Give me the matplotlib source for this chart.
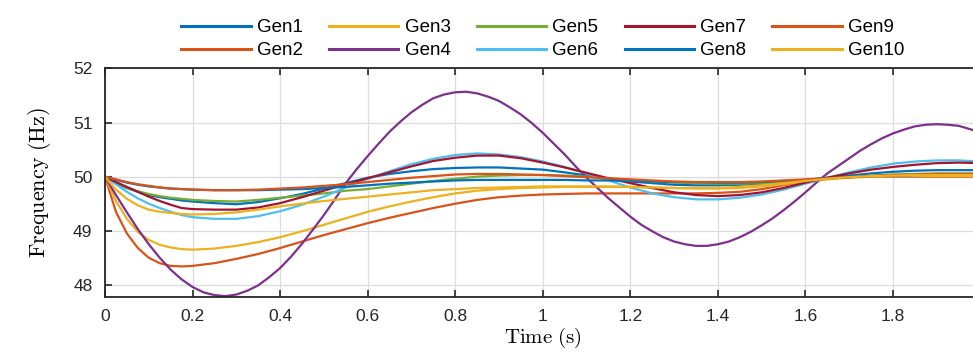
import matplotlib
matplotlib.use('Agg')
import matplotlib.pyplot as plt

# time axis (s)
t = [0, 0.025, 0.05, 0.075, 0.1, 0.125, 0.15, 0.175, 0.2,
     0.25, 0.3, 0.35, 0.4, 0.45, 0.5, 0.55, 0.6, 0.65, 0.7,
     0.75, 0.8, 0.85, 0.9, 0.95, 1.0, 1.05, 1.1, 1.15, 1.2,
     1.25, 1.3, 1.35, 1.4, 1.45, 1.5, 1.55, 1.6, 1.65, 1.7,
     1.75, 1.8, 1.85, 1.9, 1.95, 2.0]
# Gen4 swings a lot, read on a finer grid
t4 = [i * 0.025 for i in range(81)]

gen1 = [50.0, 49.88, 49.79, 49.72, 49.66, 49.62, 49.59, 49.56, 49.54,
        49.51, 49.49, 49.53, 49.60, 49.68, 49.78, 49.88, 49.98, 50.05, 50.10,
        50.14, 50.16, 50.17, 50.17, 50.15, 50.13, 50.08, 50.02, 49.96, 49.91,
        49.88, 49.85, 49.84, 49.84, 49.85, 49.87, 49.90, 49.94, 49.98, 50.02,
        50.06, 50.09, 50.11, 50.12, 50.12, 50.12]
gen2 = [50.0, 49.35, 48.95, 48.68, 48.50, 48.40, 48.35, 48.34, 48.35,
        48.40, 48.48, 48.57, 48.68, 48.80, 48.92, 49.03, 49.14, 49.24, 49.33,
        49.42, 49.50, 49.57, 49.62, 49.65, 49.67, 49.68, 49.69, 49.69, 49.69,
        49.69, 49.69, 49.69, 49.70, 49.72, 49.77, 49.84, 49.91, 49.96, 49.99,
        50.0, 50.0, 50.0, 50.0, 50.0, 50.0]
gen3 = [50.0, 49.55, 49.22, 48.98, 48.83, 48.74, 48.69, 48.66, 48.65,
        48.67, 48.72, 48.79, 48.88, 48.99, 49.11, 49.23, 49.35, 49.45, 49.54,
        49.62, 49.69, 49.74, 49.77, 49.79, 49.80, 49.81, 49.81, 49.81, 49.81,
        49.80, 49.79, 49.78, 49.78, 49.79, 49.82, 49.86, 49.91, 49.95, 49.98,
        50.0, 50.01, 50.01, 50.01, 50.01, 50.01]
gen4 = [50.0, 49.66, 49.34, 49.03, 48.75, 48.50, 48.28, 48.10, 47.96, 47.86,
        47.81, 47.79, 47.82, 47.89, 47.99, 48.14, 48.31, 48.52, 48.76, 49.02,
        49.29, 49.58, 49.88, 50.14, 50.38, 50.61, 50.83, 51.02, 51.19, 51.33,
        51.45, 51.52, 51.56, 51.57, 51.54, 51.48, 51.40, 51.28, 51.15, 50.99,
        50.81, 50.61, 50.41, 50.19, 49.98, 49.79, 49.60, 49.43, 49.26, 49.11,
        48.99, 48.88, 48.80, 48.75, 48.72, 48.72, 48.75, 48.80, 48.88, 48.98,
        49.10, 49.23, 49.38, 49.54, 49.71, 49.89, 50.06, 50.20, 50.34, 50.48,
        50.60, 50.71, 50.80, 50.87, 50.93, 50.96, 50.97, 50.96, 50.94, 50.88,
        50.82]
gen5 = [50.0, 49.89, 49.80, 49.73, 49.68, 49.64, 49.61, 49.59, 49.57,
        49.55, 49.54, 49.57, 49.61, 49.65, 49.69, 49.74, 49.77, 49.82, 49.87,
        49.92, 49.96, 50.00, 50.02, 50.03, 50.03, 50.02, 50.00, 49.97, 49.94,
        49.91, 49.89, 49.88, 49.87, 49.87, 49.88, 49.90, 49.93, 49.96, 49.99,
        50.02, 50.04, 50.05, 50.06, 50.06, 50.06]
gen6 = [50.0, 49.86, 49.72, 49.60, 49.50, 49.42, 49.35, 49.29, 49.25,
        49.22, 49.22, 49.27, 49.36, 49.48, 49.63, 49.80, 49.96, 50.10, 50.23,
        50.33, 50.40, 50.43, 50.41, 50.36, 50.28, 50.18, 50.06, 49.93, 49.80,
        49.69, 49.62, 49.58, 49.58, 49.61, 49.67, 49.76, 49.87, 49.98, 50.08,
        50.17, 50.24, 50.28, 50.30, 50.30, 50.28]
gen7 = [50.0, 49.90, 49.81, 49.72, 49.63, 49.55, 49.48, 49.42, 49.40,
        49.39, 49.39, 49.43, 49.51, 49.62, 49.74, 49.86, 49.97, 50.08, 50.19,
        50.29, 50.35, 50.39, 50.39, 50.34, 50.26, 50.17, 50.07, 49.97, 49.88,
        49.79, 49.71, 49.66, 49.64, 49.66, 49.71, 49.79, 49.89, 49.98, 50.06,
        50.13, 50.18, 50.22, 50.25, 50.26, 50.25]
gen8 = [50.0, 49.94, 49.89, 49.85, 49.82, 49.80, 49.78, 49.77, 49.76,
        49.75, 49.75, 49.75, 49.76, 49.77, 49.79, 49.81, 49.84, 49.87, 49.89,
        49.91, 49.93, 49.94, 49.94, 49.94, 49.94, 49.94, 49.93, 49.93, 49.92,
        49.91, 49.90, 49.90, 49.89, 49.89, 49.90, 49.92, 49.94, 49.97, 49.99,
        50.01, 50.02, 50.03, 50.04, 50.04, 50.04]
gen9 = [50.0, 49.95, 49.90, 49.86, 49.83, 49.80, 49.78, 49.77, 49.76,
        49.75, 49.75, 49.76, 49.78, 49.80, 49.83, 49.86, 49.90, 49.94, 49.98,
        50.01, 50.04, 50.05, 50.05, 50.04, 50.03, 50.01, 49.99, 49.97, 49.95,
        49.93, 49.91, 49.90, 49.90, 49.90, 49.91, 49.93, 49.95, 49.97, 49.99,
        50.01, 50.03, 50.04, 50.05, 50.05, 50.05]
gen10 = [50.0, 49.76, 49.59, 49.47, 49.39, 49.35, 49.33, 49.31, 49.30,
         49.31, 49.34, 49.39, 49.45, 49.50, 49.55, 49.59, 49.63, 49.67, 49.71,
         49.75, 49.77, 49.79, 49.80, 49.81, 49.82, 49.82, 49.82, 49.82, 49.81,
         49.80, 49.79, 49.79, 49.79, 49.81, 49.84, 49.88, 49.92, 49.96, 49.99,
         50.01, 50.02, 50.03, 50.03, 50.03, 50.03]

series = [gen1, gen2, gen3, gen4, gen5, gen6, gen7, gen8, gen9, gen10]
names = ['Gen1', 'Gen2', 'Gen3', 'Gen4', 'Gen5', 'Gen6', 'Gen7', 'Gen8', 'Gen9', 'Gen10']
# matlab default line colours, cycling after 7
colors = ['#0072BD', '#D95319', '#EDB120', '#7E2F8E', '#77AC30',
          '#4DBEEE', '#A2142F', '#0072BD', '#D95319', '#EDB120']

xticks = [0, 0.2, 0.4, 0.6, 0.8, 1.0, 1.2, 1.4, 1.6, 1.8]
xticklabels = ['0', '0.2', '0.4', '0.6', '0.8', '1', '1.2', '1.4', '1.6', '1.8']
yticks = [48, 49, 50, 51, 52]

plt.rcParams['font.family'] = ['Liberation Sans', 'DejaVu Sans']
plt.rcParams['mathtext.fontset'] = 'cm'

fig = plt.figure(figsize=(9.73, 3.52), dpi=100)
ax = fig.add_axes([0.1079, 0.1571, 0.8999, 0.6483])

for y, name, c in zip(series, names, colors):
    x = t4 if name == 'Gen4' else t
    ax.plot(x, y, color=c, lw=1.6, label=name)

ax.set_xlim(0, 2)
ax.set_ylim(47.78, 52)
ax.set_xticks(xticks)
ax.set_xticklabels(xticklabels)
ax.set_yticks(yticks)
ax.set_yticklabels([str(v) for v in yticks])
ax.grid(True, color='#dcdcdc', lw=0.9)
ax.set_axisbelow(True)
ax.tick_params(direction='in', length=5, width=1.2, labelsize=12.5, pad=9,
               top=True, right=True, colors='#262626')
for s in ax.spines.values():
    s.set_linewidth(1.3)
    s.set_color('#262626')

ax.set_xlabel(r'$\mathrm{Time\ (s)}$', fontsize=15)
ax.xaxis.set_label_coords(0.5, -0.128)
ax.set_ylabel(r'$\mathrm{Frequency\ (Hz)}$', fontsize=16)
ax.yaxis.set_label_coords(-0.059, 0.5)

leg = ax.legend(ncol=5, loc='lower center', bbox_to_anchor=(0.5, 1.0),
                frameon=False, fontsize=13.5, handlelength=3.7, handletextpad=0.33,
                columnspacing=1.4, labelspacing=0.3, borderaxespad=0.1)
for h in leg.get_lines():
    h.set_linewidth(2.2)

plt.savefig('out.png', dpi=100)
